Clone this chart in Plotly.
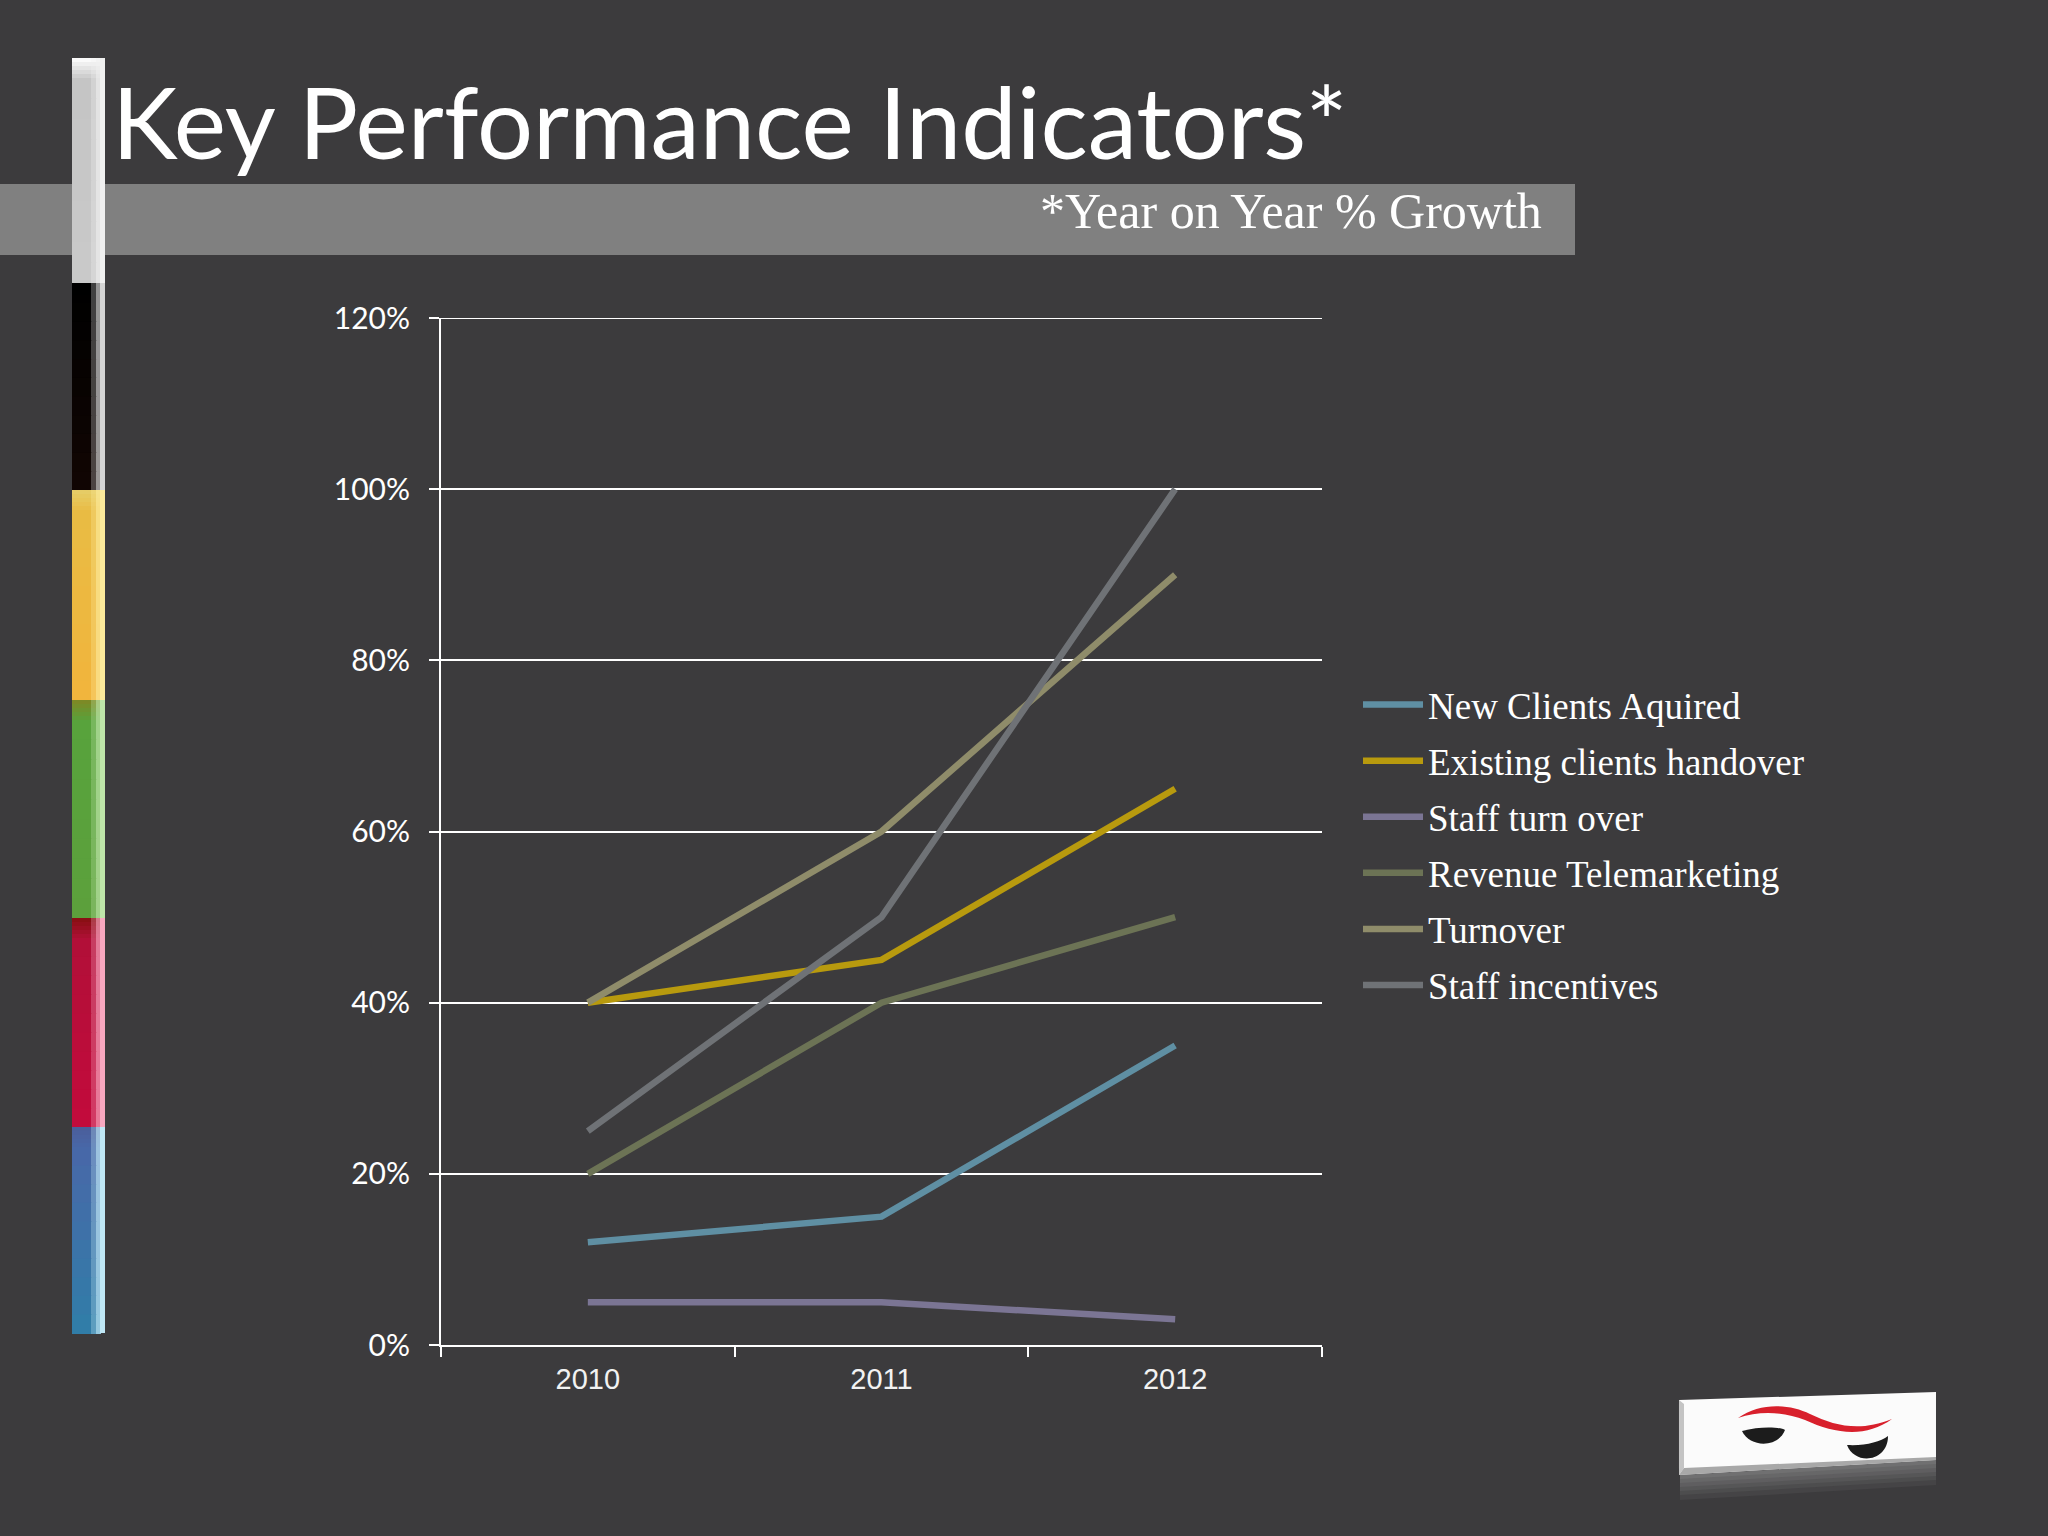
import plotly.graph_objects as go

W = 2048
H = 1536

years = ["2010", "2011", "2012"]
new_clients = [0.12, 0.15, 0.35]
existing_clients = [0.40, 0.45, 0.65]
staff_turn_over = [0.05, 0.05, 0.03]
revenue_telemarketing = [0.20, 0.40, 0.50]
turnover = [0.40, 0.60, 0.90]
staff_incentives = [0.25, 0.50, 1.00]

series = [
    ("New Clients Aquired", new_clients, "#5f8fa3"),
    ("Existing clients handover", existing_clients, "#b89a0e"),
    ("Staff turn over", staff_turn_over, "#7b7594"),
    ("Revenue Telemarketing", revenue_telemarketing, "#6c7355"),
    ("Turnover", turnover, "#8f8c6a"),
    ("Staff incentives", staff_incentives, "#6f7276"),
]

BG = "#3c3b3d"
PLOT_LEFT = 441
PLOT_RIGHT = 1322


def px(x):
    return x / W


def py(y):
    return 1 - y / H


def rect(x0, y0, x1, y1, color):
    return dict(type="rect", xref="paper", yref="paper", layer="below",
                x0=px(x0), x1=px(x1), y0=py(y0), y1=py(y1),
                fillcolor=color, line_width=0)


def path(points, color):
    # points are pixel positions, "C" segments come in threes
    parts = []
    for p in points:
        if isinstance(p, str):
            parts.append(p)
        else:
            parts.append(f"{px(p[0]):.5f},{py(p[1]):.5f}")
    return dict(type="path", xref="paper", yref="paper", layer="above",
                path=" ".join(parts), fillcolor=color, line_width=0)


def mix(c1, c2, t):
    a = [int(c1[i:i + 2], 16) for i in (1, 3, 5)]
    b = [int(c2[i:i + 2], 16) for i in (1, 3, 5)]
    return "#" + "".join(f"{round(u + (v - u) * t):02x}" for u, v in zip(a, b))


shapes = [rect(0, 184, 1575, 255, "#808080")]

# colour strip on the left: y0, y1, top cap, top colour, bottom colour, right edge colour
strip = [
    (58, 283, "#fafafa", "#c4c4c4", "#cacaca", "#f0f0f0"),
    (283, 490, "#000000", "#000000", "#120603", "#d4d4d4"),
    (490, 700, "#e6cc66", "#e8bc44", "#f2b43c", "#fdeb9c"),
    (700, 918, "#7c8a26", "#57a33c", "#5da03c", "#bfe6aa"),
    (918, 1127, "#8a0f14", "#b01038", "#c40a3c", "#f8a8c0"),
    (1127, 1333, "#4a5f9c", "#4a66a8", "#2f7fa8", "#c0e8f6"),
]
CAP = 20
for y0, y1, cap, top, bottom, edge in strip:
    # short slices under the cap, longer ones below it
    cuts = [y0 + CAP * i / 5 for i in range(5)]
    cuts += [y0 + CAP + (y1 - y0 - CAP) * i / 10 for i in range(11)]
    for ya, yb in zip(cuts, cuts[1:]):
        c = mix(top, bottom, (ya - y0) / (y1 - y0))
        if ya - y0 < CAP:
            c = mix(cap, c, (ya - y0) / CAP)
        # slices overlap by a pixel so no seams show
        for xa, xb, t in [(72, 92, 0), (91, 97, 0.3), (96, 101, 0.7)]:
            shapes.append(rect(xa, ya, xb, yb + 1, mix(c, edge, t)))
    shapes.append(rect(100, y0, 105, y1, edge))

# gridline at the very top of the range, plotly leaves this one out
shapes.append(dict(type="line", xref="paper", yref="y", layer="below",
                   x0=px(PLOT_LEFT - 9), x1=px(PLOT_RIGHT), y0=1.2, y1=1.2,
                   line=dict(color="white", width=2)))

# logo in the bottom right corner, the reflection fades out downwards
fade = 6
for i in range(fade):
    t = i / fade
    h0 = 24 * t
    h1 = 24 * (i + 1) / fade + 1
    shapes.append(path(["M", (1680, 1475 + h0), "L", (1936, 1460 + h0), "L", (1936, 1460 + h1),
                        "L", (1680, 1475 + h1), "Z"], mix("#707071", BG, t)))
shapes += [
    path(["M", (1679, 1400), "L", (1936, 1392), "L", (1936, 1460), "L", (1679, 1475), "Z"], "#fbfbfb"),
    path(["M", (1679, 1400), "L", (1684, 1404), "L", (1684, 1468), "L", (1679, 1475), "Z"], "#c4c4c4"),
    path(["M", (1684, 1468), "L", (1936, 1457), "L", (1936, 1460), "L", (1679, 1475), "Z"], "#a8a8a8"),
    path(["M", (1738, 1418), "C", (1760, 1402), (1790, 1404), (1810, 1414),
          "C", (1835, 1426), (1860, 1432), (1892, 1419),
          "C", (1866, 1438), (1835, 1434), (1805, 1420),
          "C", (1785, 1412), (1760, 1410), (1738, 1418), "Z"], "#d8202c"),
    path(["M", (1742, 1431), "C", (1760, 1426), (1780, 1427), (1785, 1430),
          "C", (1778, 1448), (1750, 1448), (1742, 1431), "Z"], "#1c1c1c"),
    path(["M", (1847, 1445), "C", (1865, 1446), (1880, 1442), (1888, 1436),
          "C", (1888, 1462), (1855, 1466), (1847, 1445), "Z"], "#1c1c1c"),
]

fig = go.Figure()
for name, values, color in series:
    fig.add_trace(go.Scatter(x=years, y=values, name=name, legendgroup=name, mode="lines",
                             line=dict(color=color, width=6.5)))

fig.update_layout(
    width=W, height=H,
    margin=dict(l=0, r=0, t=0, b=0, autoexpand=False),
    paper_bgcolor=BG, plot_bgcolor=BG,
    shapes=shapes,
    legend=dict(x=px(1358), y=py(674), xanchor="left", yanchor="top",
                bgcolor="rgba(0,0,0,0)", itemwidth=60, tracegroupgap=5,
                font=dict(family="Liberation Serif", size=37, color="white")),
    annotations=[
        dict(text="Key Performance Indicators*", xref="paper", yref="paper",
             x=px(110), y=py(120), xanchor="left", yanchor="middle", showarrow=False,
             font=dict(family="Lato", size=99, color="white")),
        dict(text="*Year on Year % Growth", xref="paper", yref="paper",
             x=px(1544), y=py(211), xanchor="right", yanchor="middle", showarrow=False,
             font=dict(family="Liberation Serif", size=50, color="white")),
    ],
)
fig.update_xaxes(
    type="category", domain=[px(PLOT_LEFT), px(PLOT_RIGHT)], range=[-0.5, 2.5], tickson="boundaries",
    ticks="outside", ticklen=10, tickwidth=2, tickcolor="white", automargin=False,
    showline=True, linecolor="white", linewidth=2, showgrid=False, ticklabelstandoff=7,
    tickfont=dict(family="Liberation Sans", size=29, color="#f2f2f2"),
)
fig.update_yaxes(
    domain=[py(1345), py(318)], range=[0, 1.2], dtick=0.2, tickformat=".0%",
    ticks="outside", ticklen=10, tickwidth=2, tickcolor="white", automargin=False,
    showline=True, linecolor="white", linewidth=2, ticklabelstandoff=13,
    showgrid=True, gridcolor="white", gridwidth=2, zeroline=False,
    tickfont=dict(family="Lato", size=30, color="white"),
)

fig.write_html("out.html", config=dict(displayModeBar=False),
               post_script="document.body.style.margin='0';")
